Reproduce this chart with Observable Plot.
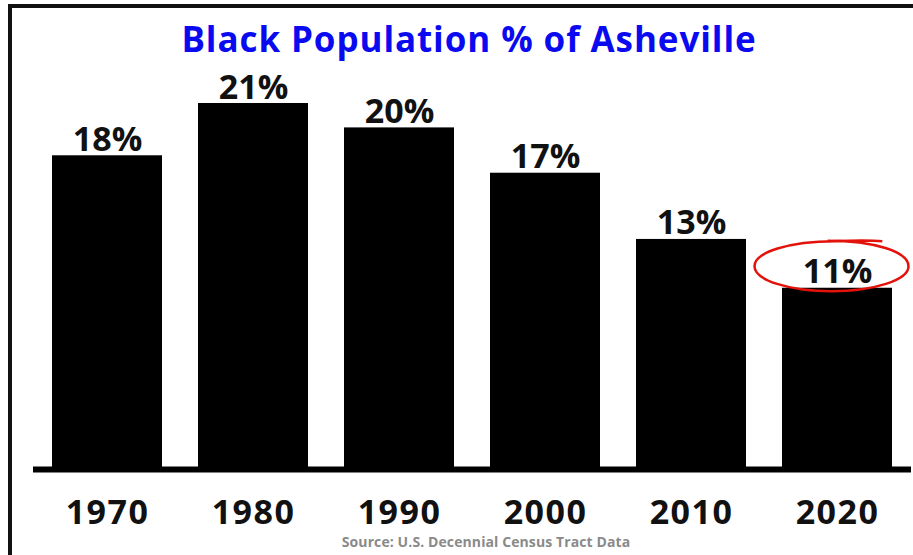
<!DOCTYPE html>
<html>
<head>
<meta charset="utf-8">
<script src="https://cdn.jsdelivr.net/npm/d3@7"></script>
<script src="https://cdn.jsdelivr.net/npm/@observablehq/plot@0.6"></script>
<style>
  html, body { margin: 0; padding: 0; background: #fff; }
  #wrap { position: relative; width: 913px; height: 555px; overflow: hidden; background: #fff; }
  #border { position: absolute; left: 8px; top: 4px; right: -10px; bottom: -10px; border-left: 4px solid #111; border-top: 4px solid #111; }
  #title { position: absolute; left: 0; top: 21px; width: 938px; text-align: center; font-family: "Open Sans", sans-serif; font-weight: 700; font-size: 35px; color: #0a0af0; letter-spacing: 0.9px; line-height: 1; }
  #source { position: absolute; left: 0; top: 535px; width: 972px; text-align: center; font-family: "Open Sans", sans-serif; font-weight: 700; font-size: 14px; color: #8a8a8a; letter-spacing: 0.1px; line-height: 1; }
  #chart { position: absolute; left: 0; top: 0; }
</style>
</head>
<body>
<div id="wrap">
  <div id="border"></div>
  <div id="chart"></div>
  <div id="title">Black Population % of Asheville</div>
  <div id="source">Source: U.S. Decennial Census Tract Data</div>
</div>
<script>
const years = ["1970", "1980", "1990", "2000", "2010", "2020"];
const values = [18.0, 21.0, 19.6, 17.0, 13.2, 10.4];
const labels = ["18%", "21%", "20%", "17%", "13%", "11%"];
const highlightYears = ["2020"];

const data = years.map((year, i) => ({year, value: values[i], label: labels[i]}));
const highlighted = data.filter(d => highlightYears.includes(d.year));

// hand-drawn-looking ellipse symbol for the annotation
const ellipseSymbol = {
  draw(context, size) {
    const r = Math.sqrt(size / Math.PI);
    const rx = r * 3.08, ry = r;
    const k = 0.5523;
    context.moveTo(rx * 0.05, -ry);
    context.bezierCurveTo(-rx * k, -ry, -rx, -ry * k, -rx, 0);
    context.bezierCurveTo(-rx, ry * k, -rx * k, ry, 0, ry);
    context.bezierCurveTo(rx * k, ry, rx, ry * k, rx, 0);
    context.bezierCurveTo(rx, -ry * k * 1.05, rx * k, -ry * 1.02, -rx * 0.05, -ry * 1.02);
    // overshoot stroke at the top
    context.moveTo(-rx * 0.05, -ry * 1.0);
    context.bezierCurveTo(rx * 0.2, -ry * 1.02, rx * 0.45, -ry * 1.06, rx * 0.66, -ry * 1.0);
  }
};

const chart = Plot.plot({
  width: 913,
  height: 555,
  marginTop: 103,
  marginBottom: 86,
  marginLeft: 33,
  marginRight: 2,
  style: { background: "transparent", overflow: "visible" },
  x: { domain: years, paddingInner: 0.25, paddingOuter: 0.123, label: null },
  y: { domain: [0, 21], axis: null },
  marks: [
    Plot.barY(data, { x: "year", y: "value", fill: "#000" }),
    Plot.ruleY([0], { stroke: "#000", strokeWidth: 6 }),
    Plot.text(data, {
      x: "year", y: "value", text: "label",
      dy: -5, lineAnchor: "bottom",
      fontSize: 34, fontWeight: 700, fill: "#111",
      fontFamily: "Open Sans", letterSpacing: 1
    }),
    Plot.dot(highlighted, {
      x: "year", y: "value", dx: -6, dy: -22, r: 25,
      symbol: ellipseSymbol, stroke: "#e3120b", strokeWidth: 2.5, fill: "none"
    }),
    Plot.axisX({
      tickSize: 0, tickPadding: 30, fontSize: 34, fontWeight: 700,
      fontFamily: "Open Sans", fill: "#111", label: null
    })
  ]
});
chart.querySelectorAll("g[aria-label='x-axis tick label'] text").forEach(t => t.setAttribute("letter-spacing", "1.5"));
document.getElementById("chart").appendChild(chart);
</script>
</body>
</html>
